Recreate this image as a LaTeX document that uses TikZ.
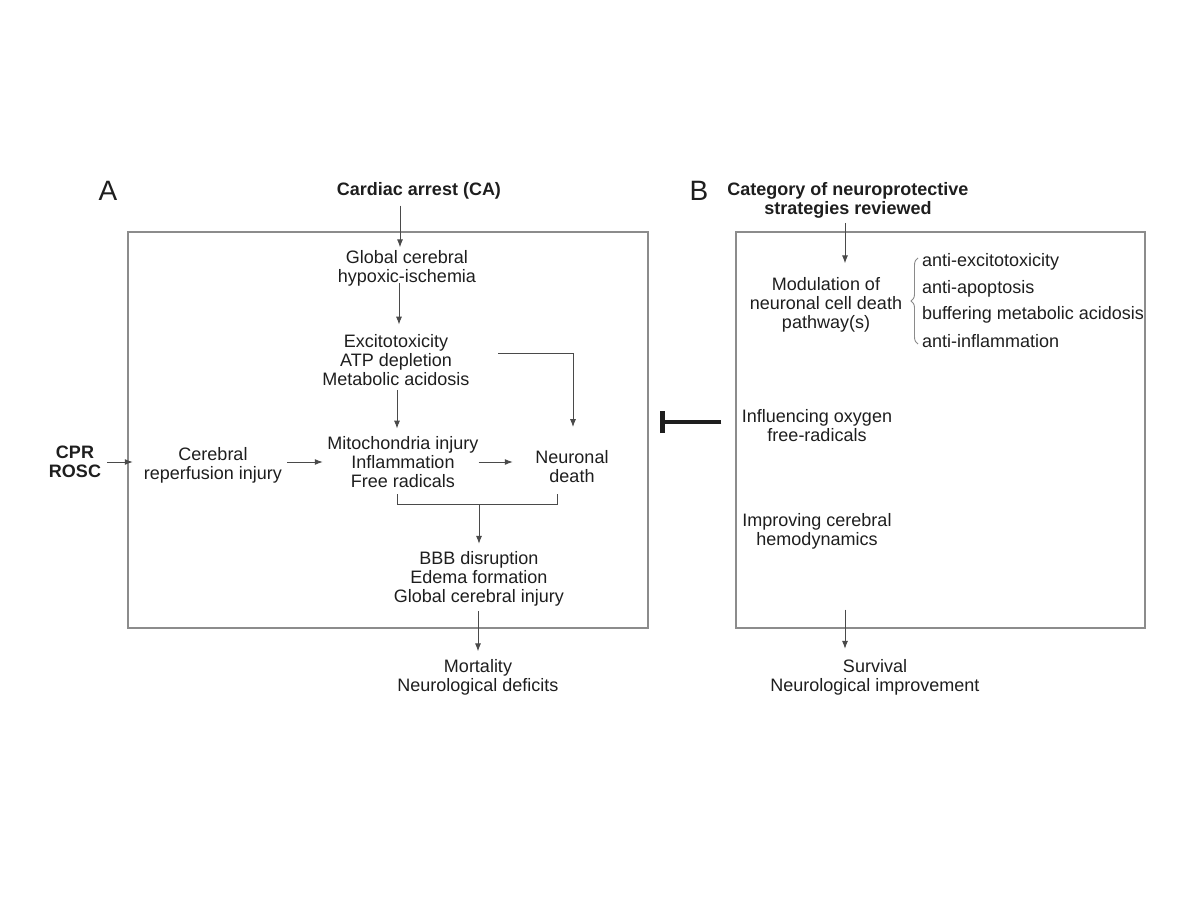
\documentclass[tikz,border=0pt]{standalone}
\usepackage{fontspec}
\setmainfont{Liberation Sans}
\usetikzlibrary{arrows.meta, decorations.pathreplacing}

\definecolor{ink}{HTML}{1E1E1E}
\definecolor{linegray}{HTML}{4A4A4A}
\definecolor{boxgray}{HTML}{8C8C8C}
\definecolor{bracegray}{HTML}{8A8A8A}

\begin{document}
\begin{tikzpicture}[
    % GLOBAL CFG
    x=1pt, y=-1pt,
    >=Latex,
    % Styles
    txt/.style={% plain text blocks
        align=center,
        inner sep=0pt,
        text=ink,
        font=\fontsize{18}{19}\selectfont
        },
    title/.style={% bold headings
        txt,
        font=\fontsize{18}{19}\selectfont\bfseries
        },
    panel/.style={% panel letters A and B
        inner sep=0pt,
        text=ink,
        font=\fontsize{28}{30}\selectfont
        },
    frame/.style={% the two big boxes
        rectangle,
        draw=boxgray,
        line width=1.1pt
        },
    arr/.style={% thin arrows
        -{Latex[length=8pt,width=6pt]},
        draw=linegray,
        line width=1pt
        },
    link/.style={% plain lines
        draw=linegray,
        line width=1pt
        },
    inhibit/.style={% blunt arrow
        -{Bar[width=22pt,line width=5pt]},
        draw=ink,
        line width=4pt
        },
    curly/.style={% brace of the list
        draw=bracegray,
        line width=0.9pt,
        decorate,
        decoration={brace, amplitude=7pt}
        }
    ]
\useasboundingbox (0,0) rectangle (1200,902);

% Panel A
    \node [panel] (A) at (108,191) {A};
    \node [frame, minimum width=520, minimum height=396] (boxA) at (388,430) {};

    \node [title] (ca) at (419,191) {Cardiac arrest (CA)};
    \node [txt] (gch) at (407,268) {Global cerebral\\hypoxic-ischemia};
    \node [txt] (exc) at (396,360) {Excitotoxicity\\ATP depletion\\Metabolic acidosis};
    \node [txt] (mito) at (403,462) {Mitochondria injury\\Inflammation\\Free radicals};
    \node [txt] (neur) at (572,467) {Neuronal\\death};
    \node [txt] (rep) at (213,465.5) {Cerebral\\reperfusion injury};
    \node [title] (cpr) at (75,461.5) {CPR\\ROSC};
    \node [txt] (bbb) at (479,579) {BBB disruption\\Edema formation\\Global cerebral injury};
    \node [txt] (mort) at (478,677) {Mortality\\Neurological deficits};

% Panel B
    \node [panel] (B) at (699,191) {B};
    \node [frame, minimum width=409, minimum height=396] (boxB) at (940.5,430) {};

    \node [title] (cat) at (848,200) {Category of neuroprotective\\strategies reviewed};
    \node [txt] (mod) at (826,304.5) {Modulation of\\neuronal cell death\\pathway(s)};
    \node [txt, anchor=west] (anti1) at (922,262) {anti-excitotoxicity};
    \node [txt, anchor=west] (anti2) at (922,289) {anti-apoptosis};
    \node [txt, anchor=west] (anti3) at (922,315) {buffering metabolic acidosis};
    \node [txt, anchor=west] (anti4) at (922,341) {anti-inflammation};
    \node [txt] (oxy) at (817,426) {Influencing oxygen\\free-radicals};
    \node [txt] (hemo) at (817,531) {Improving cerebral\\hemodynamics};
    \node [txt] (surv) at (875,677.5) {Survival\\Neurological improvement};

% Connect panel A
    \draw [arr, shorten <=6pt, shorten >=2.5pt] ([xshift=-19pt]ca.south) -- ([xshift=-7pt]gch.north);
    \draw [arr, shorten <=-3pt, shorten >=9.5pt] ([xshift=-8pt]gch.south) -- ([xshift=3pt]exc.north);
    \draw [arr, shorten <=4.5pt, shorten >=7.5pt] ([xshift=1pt]exc.south) -- ([xshift=-6pt]mito.north);
    \draw [arr, shorten <=28.5pt, shorten >=23.5pt] ([yshift=6.5pt]exc.east) -| ([xshift=1pt]neur.north);

    \draw [arr, shorten <=6pt, shorten >=11pt] (cpr.east |- mito) -- (rep.west |- mito);
    \draw [arr, shorten <=5pt, shorten >=4.5pt] (rep.east |- mito) -- (mito.west);
    \draw [arr, shorten >=22.5pt] (mito.east) -- (neur.west |- mito);

    % join of the two and the way down
    \draw [link] ([xshift=-6pt,yshift=-6.5pt]mito.south) -- ++(0,10) coordinate (lc)
        -| ([xshift=-15pt,yshift=-10.5pt]neur.south);
    \draw [arr, shorten >=7.5pt] (lc -| bbb.north) -- (bbb.north);
    \draw [arr, shorten <=4.7pt, shorten >=7.5pt] ([xshift=-1pt]bbb.south) -- ([xshift=-1pt]bbb.south |- mort.north);

% Connect panel B
    \draw [arr, shorten <=4.7pt, shorten >=13.5pt] ([xshift=-3pt]cat.south) -- ([xshift=-3pt]cat.south |- mod.north);
    \draw [curly] ([xshift=-4pt,yshift=-3pt]anti4.west) -- ([xshift=-4pt,yshift=4pt]anti1.west);
    \draw [arr, shorten <=-19pt, shorten >=10.5pt] ([xshift=-3pt]cat.south |- boxB.south) -- ([xshift=-3pt]cat.south |- surv.north);

    % B acts against A
    \draw [inhibit, shorten <=14pt, shorten >=11pt] ([yshift=8pt]boxB.west) -- ([yshift=8pt]boxA.east);

\end{tikzpicture}
\end{document}
